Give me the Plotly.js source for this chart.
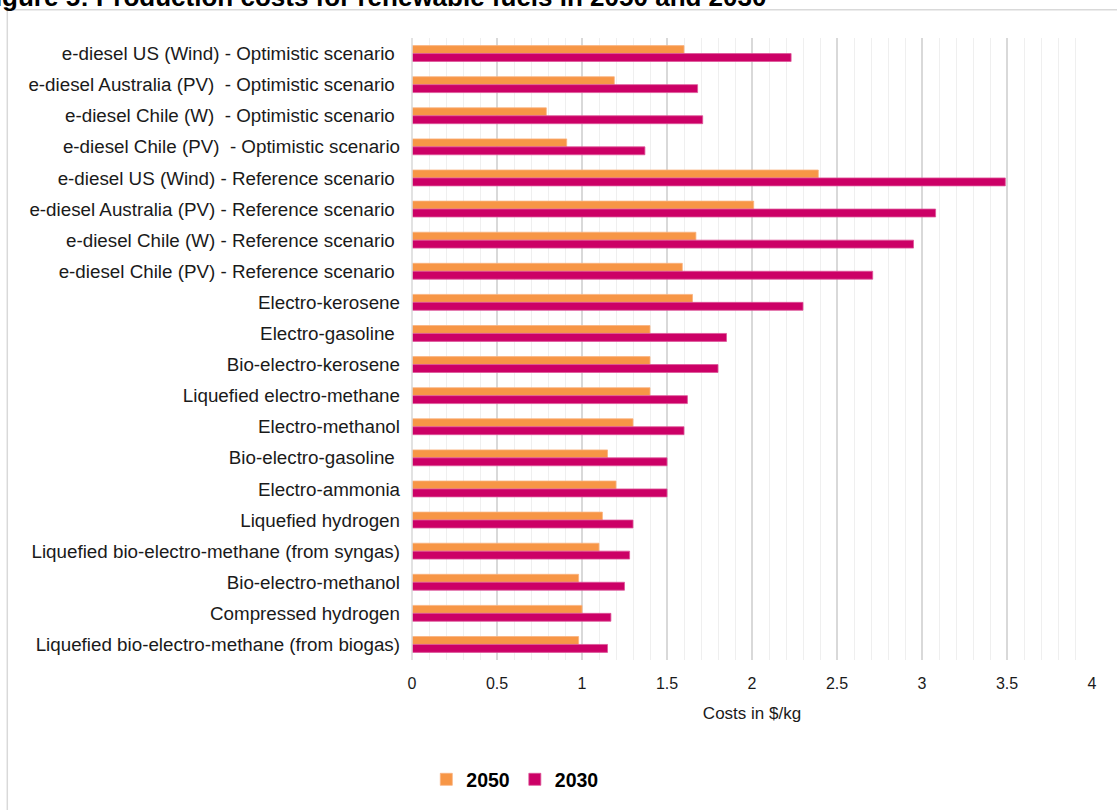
<!DOCTYPE html>
<html>
<head>
<meta charset="utf-8">
<script src="https://cdn.plot.ly/plotly-3.0.1.min.js"></script>
<style>
  html, body { margin: 0; padding: 0; background: #fff; }
  #chart { width: 1117px; height: 810px; }
</style>
</head>
<body>
<div id="chart"></div>
<script>
const NB = '\u00a0';
const categories = [
  'e-diesel US (Wind) - Optimistic scenario' + NB,
  'e-diesel Australia (PV)' + NB + ' - Optimistic scenario' + NB,
  'e-diesel Chile (W)' + NB + ' - Optimistic scenario' + NB,
  'e-diesel Chile (PV)' + NB + ' - Optimistic scenario',
  'e-diesel US (Wind) - Reference scenario' + NB,
  'e-diesel Australia (PV) - Reference scenario' + NB,
  'e-diesel Chile (W) - Reference scenario' + NB,
  'e-diesel Chile (PV) - Reference scenario' + NB,
  'Electro-kerosene',
  'Electro-gasoline' + NB,
  'Bio-electro-kerosene',
  'Liquefied electro-methane',
  'Electro-methanol',
  'Bio-electro-gasoline' + NB,
  'Electro-ammonia',
  'Liquefied hydrogen',
  'Liquefied bio-electro-methane (from syngas)',
  'Bio-electro-methanol',
  'Compressed hydrogen',
  'Liquefied bio-electro-methane (from biogas)'
];
const costs2050 = [1.60, 1.19, 0.79, 0.91, 2.39, 2.01, 1.67, 1.59, 1.65, 1.40, 1.40, 1.40, 1.30, 1.15, 1.20, 1.12, 1.10, 0.98, 1.00, 0.98];
const costs2030 = [2.23, 1.68, 1.71, 1.37, 3.49, 3.08, 2.95, 2.71, 2.30, 1.85, 1.80, 1.62, 1.60, 1.50, 1.50, 1.30, 1.28, 1.25, 1.17, 1.15];
const seriesNames = ['2050', '2030'];
const xTickVals = [0, 0.5, 1, 1.5, 2, 2.5, 3, 3.5, 4];
const xTickText = ['0', '0.5', '1', '1.5', '2', '2.5', '3', '3.5', '4'];

const FONT = 'Liberation Sans, Arial, sans-serif';

// plot area in pixels
const L = 411.7, R = 1091.7, T = 37.9, B = 661.3;
const W = 1117, H = 810;
const px2x = p => (p - L) / (R - L);
const py2y = p => (B - p) / (B - T);

const traces = [
  {
    type: 'bar', orientation: 'h', name: seriesNames[0],
    y: categories, x: costs2050,
    marker: { color: '#F79646', line: { color: '#FAB27E', width: 0.8 } },
    hoverinfo: 'x+y'
  },
  {
    type: 'bar', orientation: 'h', name: seriesNames[1],
    y: categories, x: costs2030,
    marker: { color: '#CC0066', line: { color: '#DD5599', width: 0.8 } },
    hoverinfo: 'x+y'
  }
];

const layout = {
  width: W, height: H,
  margin: { l: L, r: W - R, t: T, b: H - B, pad: 0 },
  paper_bgcolor: '#ffffff',
  plot_bgcolor: '#ffffff',
  barmode: 'group',
  bargap: 0.49,
  bargroupgap: 0,
  font: { family: FONT, size: 15, color: '#1a1a1a' },
  showlegend: true,
  legend: {
    orientation: 'h',
    x: px2x(426), xanchor: 'left',
    y: py2y(780), yanchor: 'middle',
    font: { family: FONT, size: 19.5, color: '#000', weight: 'bold' },
    itemwidth: 30,
    tracegroupgap: 0,
    bgcolor: 'rgba(0,0,0,0)'
  },
  xaxis: {
    range: [0, 4],
    tickvals: xTickVals,
    ticktext: xTickText,
    showgrid: true,
    gridcolor: '#d9d9d9',
    gridwidth: 1.3,
    minor: { dtick: 0.1, tick0: 0, showgrid: true, gridcolor: '#efefef', gridwidth: 1 },
    zeroline: false,
    showline: false,
    ticks: '',
    ticklabelstandoff: 12,
    tickfont: { family: FONT, size: 16, color: '#1a1a1a' },
    title: { text: 'Costs in $/kg', font: { family: FONT, size: 17, color: '#1a1a1a' }, standoff: 16 },
    fixedrange: true
  },
  yaxis: {
    type: 'category',
    autorange: 'reversed',
    showgrid: false,
    zeroline: false,
    showline: false,
    ticks: '',
    ticklabelstandoff: 11,
    tickfont: { family: FONT, size: 18.8, color: '#1a1a1a' },
    fixedrange: true
  },
  shapes: [
    { type: 'line', xref: 'paper', yref: 'paper', x0: 0, x1: 0, y0: 0, y1: 1,
      line: { color: '#d9d9d9', width: 1.5 }, layer: 'above' },
    { type: 'rect', xref: 'paper', yref: 'paper',
      x0: px2x(7), x1: px2x(1130), y0: py2y(830), y1: py2y(9.5),
      line: { color: '#d9d9d9', width: 1.5 }, fillcolor: 'rgba(0,0,0,0)', layer: 'below' }
  ],
  annotations: [
    { xref: 'paper', yref: 'paper', x: px2x(768), xanchor: 'right',
      y: py2y(-3), yanchor: 'middle', showarrow: false,
      text: 'Figure 5: Production costs for renewable fuels in 2050 and 2030',
      font: { family: FONT, size: 26, color: '#000', weight: 'bold' } }
  ]
};

Plotly.newPlot('chart', traces, layout, { displayModeBar: false, staticPlot: true });
</script>
</body>
</html>
